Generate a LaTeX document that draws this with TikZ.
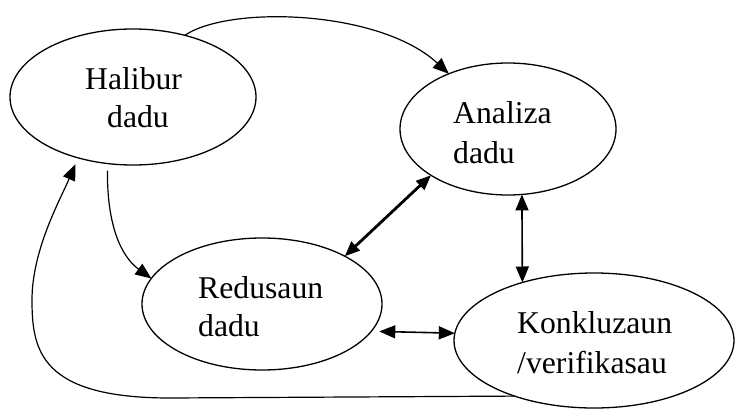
\documentclass[tikz,border=0pt]{standalone}
\usepackage{fontspec}
\setmainfont{Liberation Serif}
\usetikzlibrary{shapes.geometric,arrows.meta}
\begin{document}
\begin{tikzpicture}[x=1pt,y=-1pt,
  bubble/.style={draw, ellipse, line width=1.3pt, inner sep=0pt, outer sep=0pt},
  lbl/.style={anchor=base west, inner sep=0pt, font=\fontsize{31.7}{38}\selectfont},
  conn/.style={line width=1.2pt},
  onetip/.style={-{Triangle[length=16pt,width=13pt]}},
  twotip/.style={{Triangle[length=16pt,width=13pt]}-{Triangle[length=16pt,width=13pt]}}]
\useasboundingbox (0,0) rectangle (735,409);
\fill[white] (0,0) rectangle (735,409);
% ellipses
\node[bubble, minimum width=246pt, minimum height=136pt] (hal) at (133,97) {};
\node[bubble, minimum width=216pt, minimum height=132pt] (ana) at (508,129) {};
\node[bubble, minimum width=240pt, minimum height=132pt] (red) at (262,304) {};
\node[bubble, minimum width=280pt, minimum height=135pt] (kon) at (594,340.5) {};
% texts
\node[lbl] (hal1) at (85,90) {Halibur};
\node[lbl] (hal2) at (107,128) {dadu};
\node[lbl] (ana1) at (453,123) {Analiza};
\node[lbl] (ana2) at (453,163) {dadu};
\node[lbl] (red1) at (198,298) {Redusaun};
\node[lbl] (red2) at (198,336) {dadu};
\node[lbl] (kon1) at (517,333) {Konkluzaun};
\node[lbl] (kon2) at (517,373) {/verifikasau};
% connectors
\draw[conn, onetip] (hal.50) .. controls (230,5) and (380,10) .. (ana.137);
\draw[conn, onetip, shorten <=7pt] (hal.249) .. controls (107,235) and (126,260) .. (red.167);
\draw[line width=2.8pt, {Triangle[length=15pt,width=12pt]}-{Triangle[length=15pt,width=12pt]}] (ana.211) -- (red.30);
\draw[line width=1.6pt, twotip] (ana.282) -- (kon.141);
\draw[line width=1.6pt, twotip, shorten <=8pt] (red.346) -- (kon.177);
\draw[conn, onetip, shorten >=7pt] (kon.215) -- (170,398) .. controls (40,398) and (32,350) .. (32,300) .. controls (32,250) and (60,200) .. (hal.228);
\end{tikzpicture}
\end{document}
